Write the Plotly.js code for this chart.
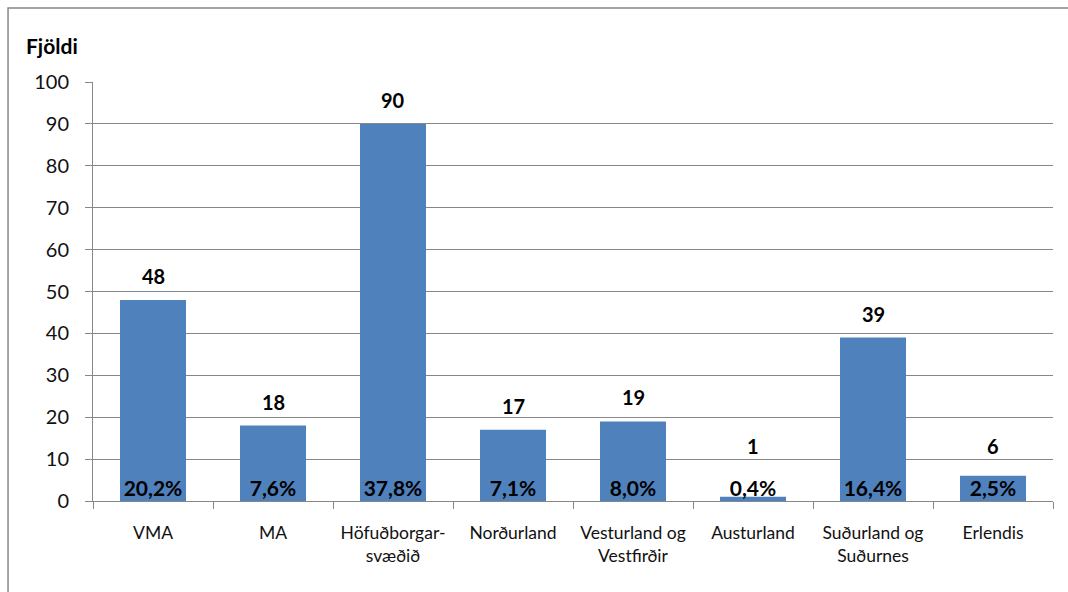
<!DOCTYPE html>
<html>
<head>
<meta charset="utf-8">
<script src="https://cdn.plot.ly/plotly-3.0.1.min.js"></script>
<style>
  body { margin: 0; background: #fff; }
  #plot { width: 1068px; height: 592px; }
</style>
</head>
<body>
<div id="plot"></div>
<script>
// Fjöldi eftir uppruna
var categories = ["VMA", "MA", "Höfuðborgar-<br>svæðið", "Norðurland", "Vesturland og<br>Vestfirðir", "Austurland", "Suðurland og<br>Suðurnes", "Erlendis"];
var counts = [48, 18, 90, 17, 19, 1, 39, 6];
var shares = ["20,2%", "7,6%", "37,8%", "7,1%", "8,0%", "0,4%", "16,4%", "2,5%"];

var font = "Lato, 'Open Sans', sans-serif";
var grey = "#878787";
var pxPerUnit = 419 / 100;

var bars = {
    x: categories,
    y: counts,
    type: "bar",
    width: 0.55,
    marker: { color: "#4F81BD" },
    hoverinfo: "x+y"
};

var pct = {
    x: categories,
    y: counts.map(() => 0),
    type: "scatter",
    mode: "text",
    text: shares,
    textposition: "top center",
    textfont: { family: font, size: 21, color: "#000", weight: "bold" },
    cliponaxis: false,
    hoverinfo: "skip"
};

// count labels above the bars, lifted clear of the % label on tiny bars
var countLabels = counts.map((v, i) => ({
    x: categories[i],
    y: v,
    text: "<b>" + v + "</b>",
    showarrow: false,
    yanchor: "middle",
    yshift: Math.max(24, 55 - v * pxPerUnit),
    font: { family: font, size: 20, color: "#000" }
}));

var layout = {
    width: 1068,
    height: 592,
    margin: { l: 93, r: 15, t: 82, b: 91 },
    showlegend: false,
    paper_bgcolor: "#fff",
    plot_bgcolor: "#fff",
    font: { family: font, color: "#000" },
    xaxis: {
        type: "category",
        tickson: "boundaries",
        ticks: "outside",
        ticklen: 7,
        tickcolor: grey,
        showline: true,
        linecolor: grey,
        showgrid: false,
        tickfont: { family: font, size: 17.5, color: "#111" },
        ticklabelstandoff: 16
    },
    yaxis: {
        range: [0, 100],
        dtick: 10,
        ticks: "outside",
        ticklen: 7,
        tickcolor: grey,
        showline: true,
        linecolor: grey,
        gridcolor: grey,
        zeroline: false,
        tickfont: { family: font, size: 20, color: "#111" },
        ticklabelstandoff: 12
    },
    annotations: countLabels.concat([{
        text: "<b>Fjöldi</b>",
        xref: "paper", yref: "paper",
        x: -0.072, y: 1.088,
        xanchor: "left", yanchor: "middle",
        showarrow: false,
        font: { family: font, size: 21, color: "#000" }
    }]),
    shapes: [{
        type: "rect",
        xref: "paper", yref: "paper",
        x0: -0.0885, x1: 2, y0: -1, y1: 1.1766,
        line: { color: grey, width: 1.5 },
        layer: "below"
    }]
};

Plotly.newPlot("plot", [bars, pct], layout, { displayModeBar: false });
</script>
</body>
</html>
